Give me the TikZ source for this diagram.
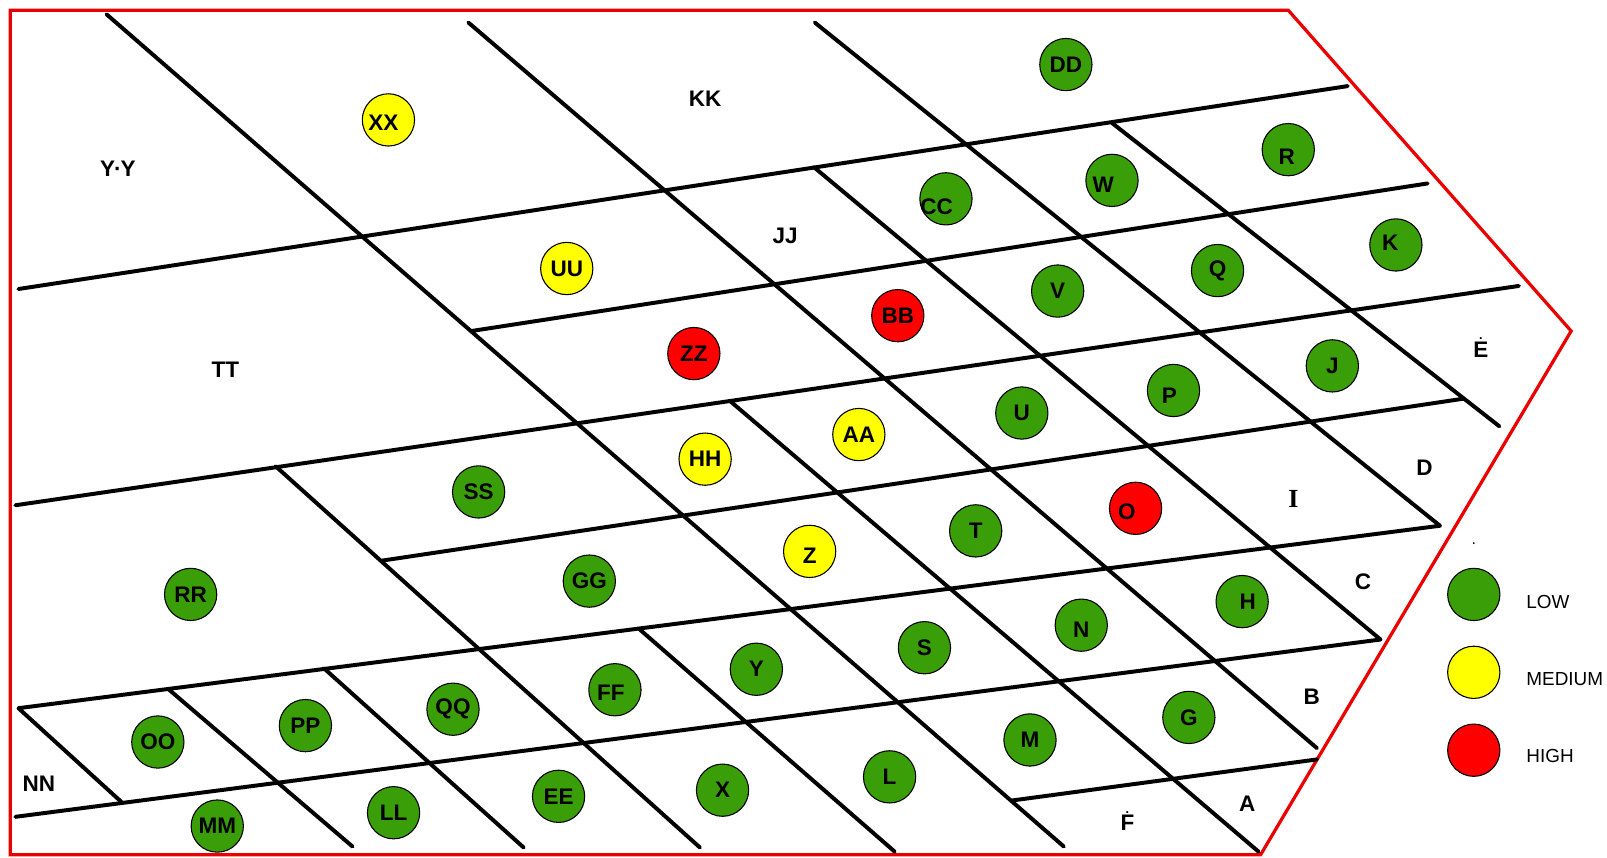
\documentclass[tikz,border=0pt]{standalone}
\usepackage{fontspec}
\setmainfont{Liberation Sans}
\newfontfamily\romanI{Liberation Serif}
\definecolor{riskgreen}{RGB}{58,158,8}
\definecolor{riskyellow}{RGB}{255,255,0}
\definecolor{riskred}{RGB}{255,0,0}
\definecolor{borderred}{RGB}{235,0,0}
\newcommand{\topdot}[1]{\ooalign{#1\cr\hidewidth\raisebox{0.78em}{\scriptsize.}\hidewidth\cr}}
\newcommand{\nudge}[3]{\raisebox{#2}[\height][\depth]{\makebox[0pt]{\kern#1\relax\kern#1\relax #3}}}

\begin{document}
\begin{tikzpicture}[x=0.02cm, y=-0.02cm]
        \tikzstyle{gridline}=[line width=2.2pt, line cap=round]
        \tikzstyle{risk}=[draw, circle, line width=0.6pt, minimum size=1.02cm, inner sep=0pt, font=\fontsize{12.5}{15}\selectfont\bfseries]
        \tikzstyle{lowrisk}=[risk, fill=riskgreen]
        \tikzstyle{medrisk}=[risk, fill=riskyellow]
        \tikzstyle{highrisk}=[risk, fill=riskred]
        \tikzstyle{zone}=[inner sep=0pt, font=\fontsize{12.5}{15}\selectfont\bfseries]
        \tikzstyle{legendtext}=[anchor=west, inner sep=0pt, font=\fontsize{10.5}{13}\selectfont]

        \useasboundingbox (0,0) rectangle (1568,837);
        \draw[borderred, line width=1.8pt] (10,10) -- (1257,10) -- (1533,323) -- (1230,834) -- (10,834) -- cycle;

        \coordinate (h1w) at (15,797);   \coordinate (h1e) at (1347,624);
        \coordinate (h2w) at (18,691);   \coordinate (h2e) at (1405,513);
        \coordinate (h3w) at (373,547);  \coordinate (h3e) at (1428,389);
        \coordinate (h4w) at (15,493);   \coordinate (h4e) at (1482,279);
        \coordinate (h5w) at (460,323);  \coordinate (h5e) at (1393,179);
        \coordinate (h6w) at (18,282);   \coordinate (h6e) at (1315,84);
        \coordinate (hfw) at (988,781);  \coordinate (hfe) at (1285,741);

        \coordinate (d1n) at (104,14);   \coordinate (d1s) at (1038,826);
        \coordinate (d2n) at (457,22);   \coordinate (d2s) at (1285,730);
        \coordinate (d3n) at (795,22);
        \coordinate (d4n) at (1085,120); \coordinate (d4s) at (1463,416);
        \coordinate (d5n) at (794,163);
        \coordinate (d6n) at (712,391);  \coordinate (d6s) at (1228,831);
        \coordinate (d7n) at (269,455);  \coordinate (d7s) at (683,827);
        \coordinate (d8n) at (624,614);  \coordinate (d8s) at (873,831);
        \coordinate (d9n) at (165,673);  \coordinate (d9s) at (344,826);
        \coordinate (d10n) at (316,652); \coordinate (d10s) at (511,827);
        \coordinate (d11s) at (119,783);

        \draw[gridline] (h1w) -- (h1e);
        \draw[gridline] (h2w) -- (h2e);
        \draw[gridline] (h3w) -- (h3e);
        \draw[gridline] (h4w) -- (h4e);
        \draw[gridline] (h5w) -- (h5e);
        \draw[gridline] (h6w) -- (h6e);
        \draw[gridline] (hfw) -- (hfe);
        \draw[gridline] (d1n) -- (d1s);
        \draw[gridline] (d2n) -- (d2s);
        \draw[gridline] (d3n) -- (h2e);
        \draw[gridline] (d4n) -- (d4s);
        \draw[gridline] (d5n) -- (h1e);
        \draw[gridline] (d6n) -- (d6s);
        \draw[gridline] (d7n) -- (d7s);
        \draw[gridline] (d8n) -- (d8s);
        \draw[gridline] (d9n) -- (d9s);
        \draw[gridline] (d10n) -- (d10s);
        \draw[gridline] (h2w) -- (d11s);

        \node[lowrisk] (dd) at (1040,63) {DD};
        \node[medrisk] (xx) at (379,117) {\nudge{-0.1cm}{-0.06cm}{XX}};
        \node[lowrisk] (r) at (1257,146) {\nudge{-0.03cm}{-0.13cm}{R}};
        \node[lowrisk] (w) at (1085,176) {\nudge{-0.17cm}{-0.08cm}{W}};
        \node[lowrisk] (cc) at (923,194) {\nudge{-0.18cm}{-0.16cm}{CC}};
        \node[lowrisk] (k) at (1362,239) {\nudge{-0.11cm}{0.04cm}{K}};
        \node[lowrisk] (q) at (1188,264) {Q};
        \node[lowrisk] (v) at (1032,284) {V};
        \node[medrisk] (uu) at (553,262) {UU};
        \node[highrisk] (bb) at (876,308) {BB};
        \node[highrisk] (zz) at (677,345) {ZZ};
        \node[lowrisk] (j) at (1300,357) {J};
        \node[lowrisk] (p) at (1145,381) {\nudge{-0.08cm}{-0.11cm}{P}};
        \node[lowrisk] (u) at (997,403) {U};
        \node[medrisk] (aa) at (838,424) {AA};
        \node[medrisk] (hh) at (688,448) {HH};
        \node[lowrisk] (ss) at (467,480) {SS};
        \node[highrisk] (o) at (1108,496) {\nudge{-0.17cm}{-0.06cm}{O}};
        \node[lowrisk] (t) at (952,518) {T};
        \node[medrisk] (z) at (790,538) {\nudge{0cm}{-0.09cm}{Z}};
        \node[lowrisk] (gg) at (575,567) {GG};
        \node[lowrisk] (rr) at (186,580) {RR};
        \node[lowrisk] (h) at (1212,587) {\nudge{0.11cm}{0cm}{H}};
        \node[lowrisk] (n) at (1055,610) {\nudge{0cm}{-0.09cm}{N}};
        \node[lowrisk] (s) at (902,632) {S};
        \node[lowrisk] (y) at (738,653) {Y};
        \node[lowrisk] (ff) at (600,673) {\nudge{-0.08cm}{-0.06cm}{FF}};
        \node[lowrisk] (qq) at (442,692) {QQ};
        \node[lowrisk] (pp) at (298,708) {PP};
        \node[lowrisk] (oo) at (154,724) {OO};
        \node[lowrisk] (g) at (1160,700) {G};
        \node[lowrisk] (m) at (1005,722) {M};
        \node[lowrisk] (l) at (868,758) {L};
        \node[lowrisk] (x) at (705,771) {X};
        \node[lowrisk] (ee) at (545,777) {EE};
        \node[lowrisk] (ll) at (384,793) {LL};
        \node[lowrisk] (mm) at (212,806) {MM};

        \node[zone] (zoneYY) at (115,165) {Y\kern-.04em\textperiodcentered\kern-.04em Y};
        \node[zone] (zoneKK) at (688,96) {KK};
        \node[zone] (zoneJJ) at (766,230) {JJ};
        \node[zone] (zoneTT) at (220,361) {TT};
        \node[zone] (zoneNN) at (38,765) {NN};
        \node[zone] (rowE) at (1445,341) {\topdot{E}};
        \node[zone] (rowD) at (1390,456) {D};
        \node[zone, font=\romanI\fontsize{14.5}{16}\selectfont\bfseries] (rowI) at (1262,487) {I};
        \node[zone] (rowC) at (1330,568) {C};
        \node[zone] (rowB) at (1280,680) {B};
        \node[zone] (rowA) at (1217,784) {A};
        \node[zone] (rowF) at (1100,803) {\topdot{F}};

        \fill (1438,530) circle (1);
        \node[lowrisk] (keylow) at (1438,580) {};
        \node[medrisk] (keymed) at (1438,656) {};
        \node[highrisk] (keyhigh) at (1438,732) {};
        \node[legendtext] (lowtxt) at (1489,587) {LOW};
        \node[legendtext] (medtxt) at (1489,663) {MEDIUM};
        \node[legendtext] (hightxt) at (1489,738) {HIGH};
    \end{tikzpicture}
\end{document}
